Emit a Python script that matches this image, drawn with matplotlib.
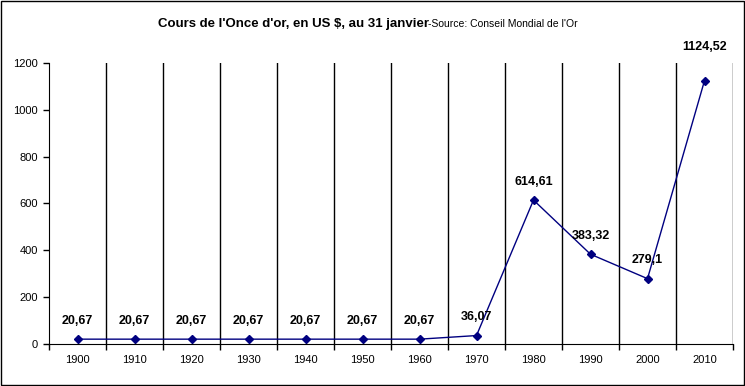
import matplotlib.pyplot as plt
import numpy as np

plt.rcParams['font.family'] = ['Liberation Sans', 'DejaVu Sans']

years = ['1900', '1910', '1920', '1930', '1940', '1950', '1960',
         '1970', '1980', '1990', '2000', '2010']
prix = [20.67, 20.67, 20.67, 20.67, 20.67, 20.67, 20.67,
        36.07, 614.61, 383.32, 279.1, 1124.52]
etiquettes = ['20,67', '20,67', '20,67', '20,67', '20,67', '20,67', '20,67',
              '36,07', '614,61', '383,32', '279,1', '1124,52']

x = np.arange(len(years))

fig = plt.figure(figsize=(7.45, 3.86), dpi=100)
ax = fig.add_axes([49 / 745, 1 - 344 / 386, (733 - 49) / 745, (344 - 63) / 386])

# category separators, Excel style
for b in np.arange(0.5, len(years), 1.0):
    ax.axvline(b, color='black', lw=1)

ax.plot(x, prix, color='#000080', lw=1, marker='D', markersize=4.5)

for i, (xi, yi, txt) in enumerate(zip(x, prix, etiquettes)):
    dy = 20 if i == len(x) - 1 else 9  # last label sits higher in the original
    ax.annotate(txt, xy=(xi, yi), xytext=(0, dy), textcoords='offset points',
                ha='center', va='bottom', fontsize=9, fontweight='bold')

ax.set_xlim(-0.5, len(years) - 0.5)
ax.set_ylim(0, 1200)
ax.set_yticks([0, 200, 400, 600, 800, 1000, 1200])
ax.set_xticks(np.arange(-0.5, len(years), 1.0))
ax.set_xticklabels([])
ax.set_xticks(x, minor=True)
ax.set_xticklabels(years, minor=True)
ax.tick_params(axis='x', which='minor', length=0, pad=8, labelsize=8)
ax.tick_params(axis='x', which='major', length=4, direction='out', width=1)
ax.tick_params(axis='y', length=4, direction='out', width=1, labelsize=8, pad=4)

ax.spines['top'].set_visible(False)
ax.spines['right'].set_visible(False)

fig.text(158 / 745, 1 - 24 / 386, "Cours de l'Once d'or, en US $, au 31 janvier",
         fontsize=9.5, fontweight='bold', ha='left', va='center')
fig.text(428 / 745, 1 - 24 / 386, "-Source: Conseil Mondial de l'Or",
         fontsize=7.5, ha='left', va='center')

# outer frame
fig.patches.append(plt.Rectangle((0.0007, 0.0013), 0.9986, 0.9974, transform=fig.transFigure,
                                 fill=False, edgecolor='black', lw=1))

fig.savefig('out.png', dpi=100)
